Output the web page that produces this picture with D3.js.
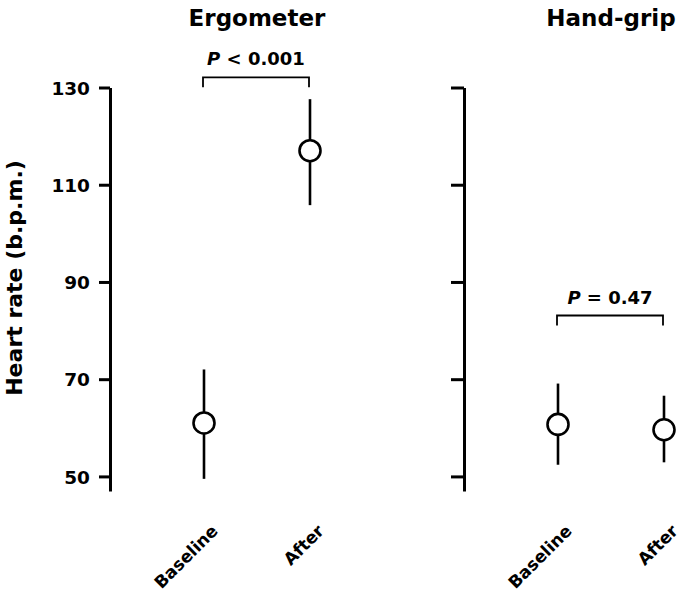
<!DOCTYPE html>
<html>
<head>
<meta charset="utf-8">
<script src="https://cdn.jsdelivr.net/npm/d3@7"></script>
<style>
  html, body { margin: 0; padding: 0; background: #fff; }
  svg { display: block; }
  text { font-family: "DejaVu Sans", Verdana, sans-serif; font-weight: bold; fill: #000; }
</style>
</head>
<body>
<svg id="chart" width="686" height="594"></svg>
<script>
// ---- data ----
const panels = ["Ergometer", "Hand-grip"];
const conditions = ["Baseline", "After"];
const ergometerMean = [61, 117];
const ergometerLow = [49.5, 105.8];
const ergometerHigh = [72, 127.6];
const handgripMean = [60.7, 59.6];
const handgripLow = [52.4, 52.9];
const handgripHigh = [69.1, 66.6];
const yTicks = [50, 70, 90, 110, 130];
const pLabels = ["< 0.001", "= 0.47"];
const pBracketLevel = [132.1, 83.1];
const yLabel = "Heart rate (b.p.m.)";

const series = [
  { name: panels[0], mean: ergometerMean, low: ergometerLow, high: ergometerHigh, p: pLabels[0], level: pBracketLevel[0] },
  { name: panels[1], mean: handgripMean, low: handgripLow, high: handgripHigh, p: pLabels[1], level: pBracketLevel[1] }
];

// ---- layout ----
const svg = d3.select("#chart");
const axisX = [110, 464];
const y = d3.scaleLinear().domain([47, 130]).range([491, 87.5]);

series.forEach((s, i) => {
  const ax = axisX[i];
  const x = d3.scalePoint().domain(conditions).range([ax + 94, ax + 200]);
  const g = svg.append("g");

  // axis
  const axis = d3.axisLeft(y).tickValues(yTicks).tickSizeInner(i === 0 ? 11 : 13).tickSizeOuter(0).tickPadding(9);
  const ag = g.append("g").attr("transform", `translate(${ax},0)`).call(axis);
  ag.select(".domain").attr("stroke", "#000").attr("stroke-width", 3);
  ag.selectAll(".tick line").attr("stroke", "#000").attr("stroke-width", 3);
  ag.selectAll(".tick text")
    .style("font-family", "'DejaVu Sans', Verdana, sans-serif")
    .style("font-weight", "bold").style("font-size", "18.5px").attr("fill", "#000")
    .attr("dy", "0.36em");
  if (i !== 0) ag.selectAll(".tick text").remove();

  // title
  g.append("text")
    .attr("x", (x(conditions[0]) + x(conditions[1])) / 2)
    .attr("y", 26)
    .attr("text-anchor", "middle")
    .style("font-size", "23px")
    .text(s.name);

  // error bars
  conditions.forEach((c, j) => {
    g.append("line")
      .attr("x1", x(c)).attr("x2", x(c))
      .attr("y1", y(s.low[j])).attr("y2", y(s.high[j]))
      .attr("stroke", "#000").attr("stroke-width", 2.6);
  });
  conditions.forEach((c, j) => {
    g.append("circle")
      .attr("cx", x(c)).attr("cy", y(s.mean[j])).attr("r", 10.5)
      .attr("fill", "#fff").attr("stroke", "#000").attr("stroke-width", 2.6);
  });

  // x labels
  conditions.forEach((c) => {
    g.append("text")
      .attr("text-anchor", "end")
      .attr("transform", `translate(${x(c) + 15},${532}) rotate(-45)`)
      .style("font-size", "17px")
      .text(c);
  });

  // significance bracket
  const by = y(s.level);
  const x1 = x(conditions[0]) - 1, x2 = x(conditions[1]) - 1;
  g.append("path")
    .attr("d", `M${x1},${by + 10}V${by}H${x2}V${by + 10}`)
    .attr("fill", "none").attr("stroke", "#000").attr("stroke-width", 1.8);
  const pt = g.append("text")
    .attr("x", (x1 + x2) / 2)
    .attr("y", by - 12)
    .attr("text-anchor", "middle")
    .style("font-size", "18px");
  pt.append("tspan").style("font-style", "italic").text("P");
  pt.append("tspan").text(" " + s.p);
});

// y label
svg.append("text")
  .attr("transform", `translate(22,278) rotate(-90)`)
  .attr("text-anchor", "middle")
  .style("font-size", "22px")
  .text(yLabel);
</script>
</body>
</html>
